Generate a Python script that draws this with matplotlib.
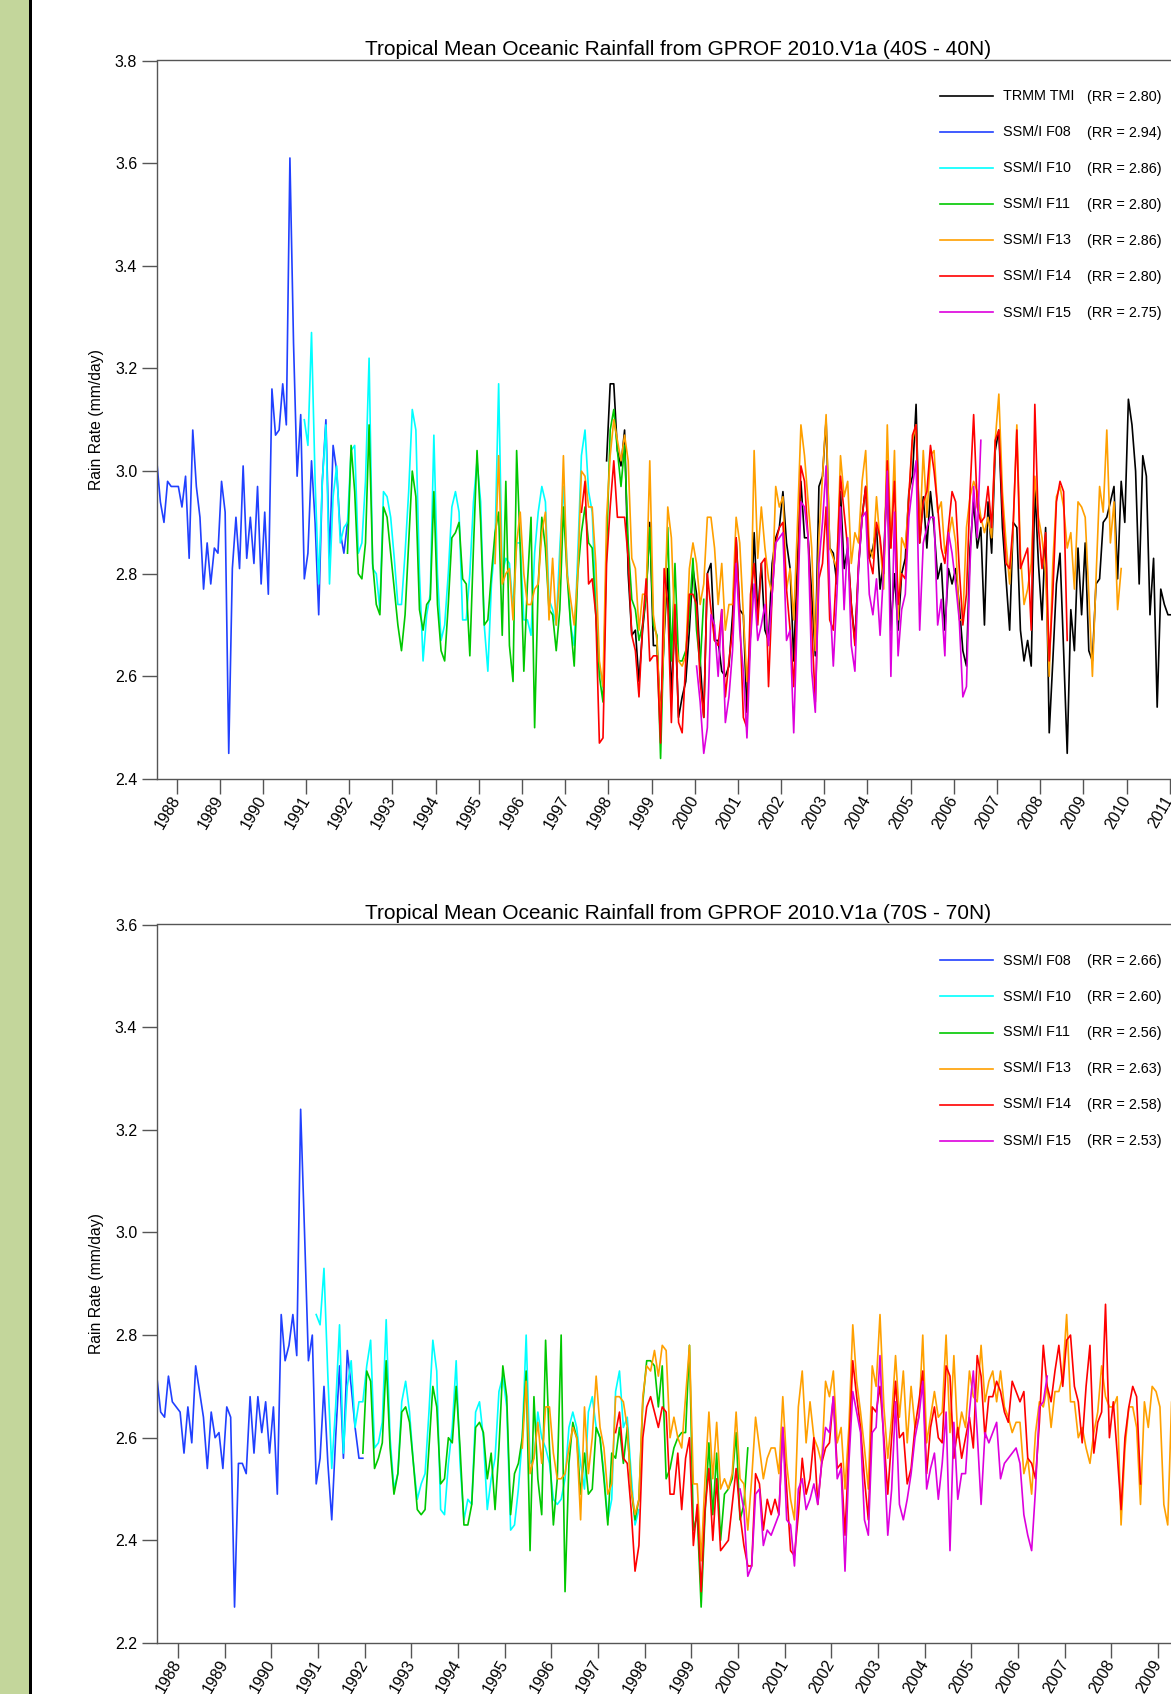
import matplotlib.pyplot as plt
from matplotlib.patches import Rectangle
from matplotlib.lines import Line2D
import numpy as np

plt.rcParams['font.family'] = ['Liberation Sans', 'DejaVu Sans']

# ---------------- data (monthly means, mm/day) ----------------
sensors = ['TRMM TMI', 'SSM/I F08', 'SSM/I F10', 'SSM/I F11', 'SSM/I F13', 'SSM/I F14', 'SSM/I F15']
colors = ['black', '#2040ff', '#00ffff', '#00c800', '#ffa000', '#ff0000', '#dd00dd']
starts = [(1997, 12), (1987, 7), (1990, 12), (1991, 12), (1995, 5), (1997, 5), (2000, 1)]

rr_40 = ['2.80', '2.94', '2.86', '2.80', '2.86', '2.80', '2.75']
rr_70 = ['2.66', '2.60', '2.56', '2.63', '2.58', '2.53']

# ---- 40S - 40N ----
tmi_40 = [3.02,
          3.17, 3.17, 3.04, 3.01, 3.08, 2.80, 2.68, 2.69, 2.59, 2.69, 2.76, 2.90,
          2.66, 2.66, 2.52, 2.68, 2.81, 2.56, 2.72, 2.52, 2.56, 2.59, 2.69, 2.81,
          2.76, 2.63, 2.52, 2.80, 2.82, 2.67, 2.67, 2.61, 2.60, 2.62, 2.72, 2.87,
          2.73, 2.72, 2.53, 2.69, 2.88, 2.72, 2.82, 2.69, 2.67, 2.82, 2.87, 2.89,
          2.96, 2.86, 2.81, 2.63, 2.82, 2.98, 2.87, 2.87, 2.76, 2.64, 2.97, 2.99,
          3.10, 2.85, 2.84, 2.78, 2.96, 2.81, 2.85, 2.74, 2.67, 2.81, 2.91, 2.97,
          2.83, 2.85, 2.89, 2.77, 2.83, 3.00, 2.69, 2.80, 2.69, 2.80, 2.83, 2.96,
          2.99, 3.13, 2.86, 2.95, 2.85, 2.96, 2.89, 2.79, 2.82, 2.69, 2.81, 2.78,
          2.81, 2.74, 2.65, 2.62, 2.85, 2.94, 2.85, 2.89, 2.70, 2.94, 2.84, 3.04,
          3.08, 2.89, 2.79, 2.69, 2.90, 2.89, 2.69, 2.63, 2.67, 2.62, 2.97, 2.82,
          2.71, 2.89, 2.49, 2.63, 2.78, 2.84, 2.65, 2.45, 2.73, 2.65, 2.85, 2.72,
          2.86, 2.65, 2.63, 2.78, 2.79, 2.90, 2.91, 2.94, 2.97, 2.79, 2.98, 2.90,
          3.14, 3.09, 3.00, 2.78, 3.03, 2.99, 2.72, 2.83, 2.54, 2.77, 2.74, 2.72,
          2.72]
f08_40 = [3.02, 2.94, 2.90, 2.98, 2.97, 2.97,
          2.97, 2.93, 2.99, 2.83, 3.08, 2.97, 2.91, 2.77, 2.86, 2.78, 2.85, 2.84,
          2.98, 2.92, 2.45, 2.81, 2.91, 2.81, 3.01, 2.83, 2.91, 2.82, 2.97, 2.78,
          2.92, 2.76, 3.16, 3.07, 3.08, 3.17, 3.09, 3.61, 3.25, 2.99, 3.11, 2.79,
          2.84, 3.02, 2.90, 2.72, 2.98, 3.10, 2.83, 3.05, 3.00, 2.88, 2.84, 2.90]
f10_40 = [3.10,
          3.05, 3.27, 2.98, 2.78, 2.98, 3.09, 2.78, 2.95, 3.01, 2.86, 2.89, 2.90,
          3.04, 3.05, 2.84, 2.86, 2.98, 3.22, 2.81, 2.80, 2.73, 2.96, 2.95, 2.91,
          2.83, 2.74, 2.74, 2.84, 2.96, 3.12, 3.08, 2.80, 2.63, 2.72, 2.76, 3.07,
          2.80, 2.67, 2.70, 2.80, 2.93, 2.96, 2.92, 2.71, 2.71, 2.80, 2.94, 3.02,
          2.94, 2.70, 2.61, 2.78, 2.86, 3.17, 2.80, 2.83, 2.82, 2.73, 2.86, 2.86,
          2.71, 2.71, 2.68, 2.84, 2.92, 2.97, 2.94, 2.75, 2.73, 2.70, 2.85, 2.97,
          2.82, 2.70, 2.66, 2.84, 3.03, 3.08, 2.96, 2.92, 2.74, 2.62, 2.58]
f11_40 = [2.84,
          3.05, 2.96, 2.80, 2.79, 2.86, 3.09, 2.82, 2.74, 2.72, 2.93, 2.91, 2.84,
          2.77, 2.70, 2.65, 2.72, 2.86, 3.00, 2.95, 2.73, 2.69, 2.74, 2.75, 2.96,
          2.74, 2.65, 2.63, 2.74, 2.87, 2.88, 2.90, 2.79, 2.78, 2.64, 2.85, 3.04,
          2.90, 2.70, 2.71, 2.80, 2.88, 2.92, 2.68, 2.98, 2.66, 2.59, 3.04, 2.85,
          2.61, 2.78, 2.91, 2.50, 2.78, 2.91, 2.85, 2.73, 2.72, 2.65, 2.73, 2.93,
          2.80, 2.70, 2.62, 2.80, 2.88, 2.93, 2.86, 2.85, 2.72, 2.60, 2.55, 2.85,
          3.08, 3.12, 3.04, 2.97, 3.05, 2.86, 2.75, 2.73, 2.67, 2.70, 2.76, 2.89,
          2.70, 2.68, 2.44, 2.70, 2.89, 2.63, 2.82, 2.63, 2.63, 2.65, 2.72, 2.83,
          2.69, 2.62, 2.75]
f13_40 = [2.82, 3.03, 2.78, 2.80, 2.81, 2.71, 2.86, 2.92,
          2.80, 2.74, 2.74, 2.77, 2.78, 2.88, 2.92, 2.71, 2.83, 2.70, 2.80, 3.03,
          2.80, 2.75, 2.70, 2.80, 3.00, 2.99, 2.93, 2.93, 2.82, 2.63, 2.58, 2.91,
          3.03, 3.10, 3.06, 3.02, 3.07, 3.02, 2.83, 2.81, 2.69, 2.76, 2.76, 3.02,
          2.72, 2.67, 2.51, 2.69, 2.93, 2.87, 2.68, 2.63, 2.62, 2.64, 2.81, 2.86,
          2.82, 2.74, 2.78, 2.91, 2.91, 2.85, 2.74, 2.82, 2.69, 2.74, 2.74, 2.91,
          2.86, 2.72, 2.59, 2.69, 3.04, 2.83, 2.93, 2.85, 2.79, 2.76, 2.97, 2.93,
          2.95, 2.77, 2.81, 2.71, 2.89, 3.09, 3.03, 2.94, 2.85, 2.65, 2.87, 2.99,
          3.11, 2.85, 2.83, 2.81, 3.03, 2.95, 2.98, 2.82, 2.88, 2.86, 2.98, 3.04,
          2.85, 2.83, 2.95, 2.86, 2.77, 3.09, 2.85, 3.04, 2.71, 2.87, 2.85, 2.95,
          3.06, 3.09, 2.87, 3.04, 2.91, 3.03, 3.04, 2.92, 2.94, 2.84, 2.87, 2.91,
          2.86, 2.71, 2.71, 2.89, 2.95, 2.98, 2.96, 2.91, 2.88, 2.91, 2.87, 3.06,
          3.15, 2.96, 2.86, 2.78, 2.89, 3.09, 2.84, 2.74, 2.77, 2.82, 2.99, 2.91,
          2.87, 2.80, 2.60, 2.82, 2.95, 2.97, 2.93, 2.85, 2.88, 2.77, 2.94, 2.93,
          2.91, 2.76, 2.60, 2.79, 2.97, 2.92, 3.08, 2.86, 2.94, 2.73, 2.81]
f14_40 = [2.92, 2.98, 2.78, 2.79, 2.72, 2.47, 2.48, 2.82,
          2.93, 3.02, 2.91, 2.91, 2.91, 2.83, 2.68, 2.65, 2.56, 2.70, 2.79, 2.63,
          2.64, 2.64, 2.47, 2.81, 2.74, 2.51, 2.74, 2.51, 2.49, 2.63, 2.76, 2.76,
          2.74, 2.59, 2.52, 2.80, 2.73, 2.67, 2.66, 2.73, 2.56, 2.63, 2.69, 2.87,
          2.72, 2.52, 2.50, 2.76, 2.82, 2.70, 2.82, 2.83, 2.58, 2.76, 2.86, 2.89,
          2.90, 2.77, 2.69, 2.58, 2.76, 3.01, 2.98, 2.87, 2.70, 2.55, 2.79, 2.82,
          2.93, 2.71, 2.69, 2.82, 2.99, 2.92, 2.85, 2.74, 2.66, 2.82, 2.91, 2.97,
          2.83, 2.80, 2.90, 2.87, 2.80, 3.02, 2.85, 2.98, 2.74, 2.80, 2.79, 2.95,
          3.07, 3.09, 2.86, 2.94, 2.96, 3.05, 3.00, 2.93, 2.85, 2.82, 2.89, 2.96,
          2.94, 2.81, 2.70, 2.76, 2.96, 3.11, 2.93, 2.90, 2.91, 2.97, 2.89, 3.06,
          3.08, 2.93, 2.82, 2.81, 2.90, 3.08, 2.81, 2.83, 2.85, 2.69, 3.13, 2.89,
          2.81, 2.88, 2.63, 2.76, 2.94, 2.98, 2.96, 2.67]
f15_40 = [2.62, 2.55, 2.45, 2.50, 2.72, 2.70, 2.60, 2.73, 2.51, 2.56, 2.65, 2.82,
          2.69, 2.61, 2.48, 2.67, 2.78, 2.67, 2.70, 2.74, 2.66, 2.76, 2.86, 2.87,
          2.88, 2.67, 2.69, 2.49, 2.72, 2.94, 2.93, 2.87, 2.61, 2.53, 2.82, 2.90,
          3.01, 2.76, 2.62, 2.76, 2.93, 2.73, 2.87, 2.66, 2.61, 2.81, 2.91, 2.92,
          2.76, 2.72, 2.79, 2.68, 2.81, 3.00, 2.60, 2.92, 2.64, 2.73, 2.76, 2.91,
          2.97, 3.02, 2.69, 2.86, 2.89, 2.91, 2.91, 2.70, 2.75, 2.64, 2.88, 2.84,
          2.78, 2.71, 2.56, 2.58, 2.82, 2.97, 2.87, 3.06]

# ---- 70S - 70N ----
f08_70 = [2.72, 2.65, 2.64, 2.72, 2.67, 2.66,
          2.65, 2.57, 2.66, 2.59, 2.74, 2.69, 2.64, 2.54, 2.65, 2.60, 2.61, 2.54,
          2.66, 2.64, 2.27, 2.55, 2.55, 2.53, 2.68, 2.57, 2.68, 2.61, 2.67, 2.57,
          2.66, 2.49, 2.84, 2.75, 2.78, 2.84, 2.76, 3.24, 3.00, 2.75, 2.80, 2.51,
          2.56, 2.70, 2.55, 2.44, 2.60, 2.74, 2.56, 2.77, 2.70, 2.62, 2.56, 2.56]
f10_70 = [2.84,
          2.82, 2.93, 2.72, 2.54, 2.66, 2.82, 2.57, 2.70, 2.75, 2.62, 2.67, 2.67,
          2.74, 2.79, 2.58, 2.59, 2.63, 2.83, 2.60, 2.50, 2.53, 2.67, 2.71, 2.65,
          2.55, 2.48, 2.51, 2.53, 2.65, 2.79, 2.73, 2.46, 2.45, 2.55, 2.62, 2.75,
          2.55, 2.44, 2.48, 2.47, 2.65, 2.67, 2.60, 2.46, 2.52, 2.56, 2.69, 2.72,
          2.66, 2.42, 2.43, 2.50, 2.60, 2.80, 2.55, 2.56, 2.65, 2.60, 2.58, 2.55,
          2.48, 2.47, 2.48, 2.52, 2.62, 2.65, 2.62, 2.55, 2.50, 2.65, 2.68, 2.62,
          2.60, 2.53, 2.44, 2.48, 2.69, 2.73, 2.62, 2.64, 2.53, 2.43, 2.46]
f11_70 = [2.57,
          2.73, 2.71, 2.54, 2.56, 2.59, 2.75, 2.58, 2.49, 2.53, 2.65, 2.66, 2.63,
          2.55, 2.46, 2.45, 2.46, 2.58, 2.70, 2.66, 2.51, 2.52, 2.60, 2.59, 2.70,
          2.58, 2.43, 2.43, 2.47, 2.62, 2.63, 2.61, 2.52, 2.57, 2.46, 2.58, 2.74,
          2.68, 2.45, 2.53, 2.55, 2.60, 2.73, 2.38, 2.68, 2.52, 2.45, 2.79, 2.58,
          2.43, 2.52, 2.80, 2.30, 2.55, 2.63, 2.60, 2.49, 2.57, 2.49, 2.50, 2.62,
          2.60, 2.52, 2.43, 2.57, 2.56, 2.62, 2.55, 2.62, 2.50, 2.44, 2.48, 2.67,
          2.75, 2.75, 2.74, 2.66, 2.74, 2.52, 2.54, 2.58, 2.60, 2.61, 2.61, 2.78,
          2.42, 2.45, 2.27, 2.45, 2.59, 2.45, 2.57, 2.40, 2.49, 2.50, 2.52, 2.61,
          2.44, 2.47, 2.58]
f13_70 = [2.58, 2.71, 2.53, 2.56, 2.63, 2.55, 2.66, 2.66,
          2.57, 2.52, 2.52, 2.53, 2.58, 2.62, 2.60, 2.44, 2.66, 2.53, 2.60, 2.72,
          2.62, 2.58, 2.49, 2.51, 2.68, 2.68, 2.67, 2.62, 2.50, 2.45, 2.48, 2.68,
          2.74, 2.73, 2.77, 2.72, 2.78, 2.77, 2.60, 2.64, 2.60, 2.58, 2.68, 2.78,
          2.51, 2.51, 2.36, 2.52, 2.65, 2.52, 2.63, 2.50, 2.52, 2.50, 2.53, 2.65,
          2.52, 2.51, 2.42, 2.52, 2.64, 2.58, 2.52, 2.56, 2.58, 2.58, 2.53, 2.68,
          2.55, 2.48, 2.44, 2.66, 2.73, 2.59, 2.67, 2.60, 2.58, 2.55, 2.71, 2.68,
          2.73, 2.59, 2.62, 2.50, 2.62, 2.82, 2.71, 2.65, 2.58, 2.50, 2.74, 2.70,
          2.84, 2.66, 2.56, 2.64, 2.76, 2.64, 2.73, 2.59, 2.70, 2.62, 2.64, 2.80,
          2.59, 2.64, 2.69, 2.64, 2.65, 2.80, 2.61, 2.76, 2.60, 2.65, 2.62, 2.73,
          2.68, 2.67, 2.78, 2.67, 2.71, 2.73, 2.67, 2.73, 2.66, 2.64, 2.61, 2.63,
          2.63, 2.53, 2.56, 2.49, 2.61, 2.67, 2.66, 2.70, 2.62, 2.69, 2.69, 2.72,
          2.84, 2.67, 2.67, 2.60, 2.62, 2.58, 2.55, 2.61, 2.65, 2.74, 2.68, 2.66,
          2.66, 2.68, 2.43, 2.58, 2.66, 2.66, 2.62, 2.47, 2.67, 2.62, 2.70, 2.69,
          2.66, 2.47, 2.43, 2.67, 2.70]
f14_70 = [2.61, 2.65, 2.56, 2.55, 2.46, 2.34, 2.39, 2.60,
          2.66, 2.68, 2.65, 2.62, 2.66, 2.65, 2.49, 2.49, 2.57, 2.46, 2.56, 2.60,
          2.39, 2.47, 2.30, 2.46, 2.54, 2.40, 2.52, 2.38, 2.39, 2.40, 2.47, 2.54,
          2.45, 2.39, 2.35, 2.35, 2.53, 2.51, 2.42, 2.48, 2.45, 2.48, 2.45, 2.62,
          2.50, 2.38, 2.37, 2.45, 2.56, 2.49, 2.52, 2.60, 2.47, 2.55, 2.58, 2.59,
          2.68, 2.54, 2.55, 2.41, 2.58, 2.75, 2.68, 2.62, 2.52, 2.44, 2.66, 2.65,
          2.70, 2.60, 2.49, 2.60, 2.71, 2.60, 2.61, 2.51, 2.54, 2.62, 2.67, 2.73,
          2.53, 2.62, 2.66, 2.60, 2.59, 2.74, 2.72, 2.56, 2.62, 2.56, 2.60, 2.64,
          2.58, 2.76, 2.72, 2.60, 2.68, 2.68, 2.71, 2.69, 2.65, 2.63, 2.71, 2.69,
          2.67, 2.69, 2.56, 2.55, 2.52, 2.63, 2.78, 2.70, 2.67, 2.73, 2.78, 2.70,
          2.79, 2.80, 2.70, 2.67, 2.59, 2.70, 2.78, 2.57, 2.63, 2.65, 2.86, 2.60,
          2.67, 2.57, 2.46, 2.60, 2.66, 2.70, 2.68, 2.51]
f15_70 = [2.50, 2.46, 2.33, 2.35, 2.49, 2.50, 2.39, 2.42, 2.41, 2.43, 2.45, 2.62,
          2.44, 2.43, 2.35, 2.50, 2.52, 2.46, 2.48, 2.51, 2.47, 2.55, 2.62, 2.61,
          2.68, 2.52, 2.54, 2.34, 2.55, 2.69, 2.65, 2.61, 2.44, 2.41, 2.61, 2.62,
          2.76, 2.58, 2.41, 2.50, 2.67, 2.47, 2.44, 2.48, 2.53, 2.60, 2.64, 2.71,
          2.50, 2.54, 2.57, 2.48, 2.55, 2.65, 2.38, 2.63, 2.48, 2.53, 2.53, 2.65,
          2.73, 2.61, 2.47, 2.61, 2.59, 2.61, 2.63, 2.52, 2.55, 2.56, 2.57, 2.58,
          2.55, 2.45, 2.41, 2.38, 2.50, 2.66, 2.67, 2.72]

years_40 = list(range(1988, 2012))
years_70 = list(range(1988, 2010))


def month_axis(start, n):
    y0, m0 = start
    return y0 + (m0 - 0.5) / 12 + np.arange(n) / 12


# ---------------- figure ----------------
W, H = 1171, 1694
fig = plt.figure(figsize=(W / 100, H / 100), dpi=100)

# green side band + black edge line on the left
fig.patches.append(Rectangle((0, 0), 29.3 / W, 1, transform=fig.transFigure,
                             facecolor='#c3d69b', edgecolor='none'))
fig.patches.append(Rectangle((29.3 / W, 0), 2.4 / W, 1, transform=fig.transFigure,
                             facecolor='black', edgecolor='none'))

ax_l, ax_r = 156.7, 1200.0
ax_h = 718.5
ax1 = fig.add_axes([ax_l / W, 1 - 779 / H, (ax_r - ax_l) / W, ax_h / H])
ax2 = fig.add_axes([ax_l / W, 1 - 1643 / H, (ax_r - ax_l) / W, ax_h / H])

panels = [
    (ax1, '40S - 40N', sensors, colors, starts,
     [tmi_40, f08_40, f10_40, f11_40, f13_40, f14_40, f15_40], rr_40,
     (2.4, 3.8), (1987.54, 2011.70), years_40),
    (ax2, '70S - 70N', sensors[1:], colors[1:], starts[1:],
     [f08_70, f10_70, f11_70, f13_70, f14_70, f15_70], rr_70,
     (2.2, 3.6), (1987.54, 2009.90), years_70),
]

spine_col = '#555555'
for ax, region, names, cols, st, series, rr, ylim, xlim, yrs in panels:
    for nm, c, s, vals in zip(names, cols, st, series):
        ax.plot(month_axis(s, len(vals)), vals, color=c, lw=1.2)

    ax.set_xlim(*xlim)
    ax.set_ylim(*ylim)
    ax.set_yticks(np.round(np.arange(ylim[0], ylim[1] + 0.01, 0.2), 1))
    ax.set_yticklabels([f'{v:.1f}' for v in np.arange(ylim[0], ylim[1] + 0.01, 0.2)])
    ax.set_xticks(yrs)
    ax.set_xticklabels([str(y) for y in yrs], rotation=60, ha='right',
                       rotation_mode='anchor', va='center')
    ax.tick_params(axis='both', direction='out', length=11, width=1.0,
                   color=spine_col, labelsize=11.5, pad=3)
    ax.tick_params(axis='x', pad=2)
    for sp in ax.spines.values():
        sp.set_color(spine_col)
        sp.set_linewidth(1.0)

    ax.set_ylabel('Rain Rate (mm/day)', fontsize=11.3, labelpad=8)
    ax.set_title(f'Tropical Mean Oceanic Rainfall from GPROF 2010.V1a ({region})',
                 fontsize=15, pad=4)

    # key: short line, sensor name, mean rain rate
    aw = ax_r - ax_l
    for i, (nm, c, r) in enumerate(zip(names, cols, rr)):
        yy = 1 - (36 + 36 * i) / ax_h
        ax.add_line(Line2D([(940 - ax_l) / aw, (993 - ax_l) / aw], [yy, yy],
                           transform=ax.transAxes, color=c, lw=1.2))
        ax.text((1003 - ax_l) / aw, yy, nm, transform=ax.transAxes,
                ha='left', va='center', fontsize=10.4)
        ax.text((1087 - ax_l) / aw, yy, f'(RR = {r})', transform=ax.transAxes,
                ha='left', va='center', fontsize=10.4)

fig.savefig('out.png', dpi=100)
